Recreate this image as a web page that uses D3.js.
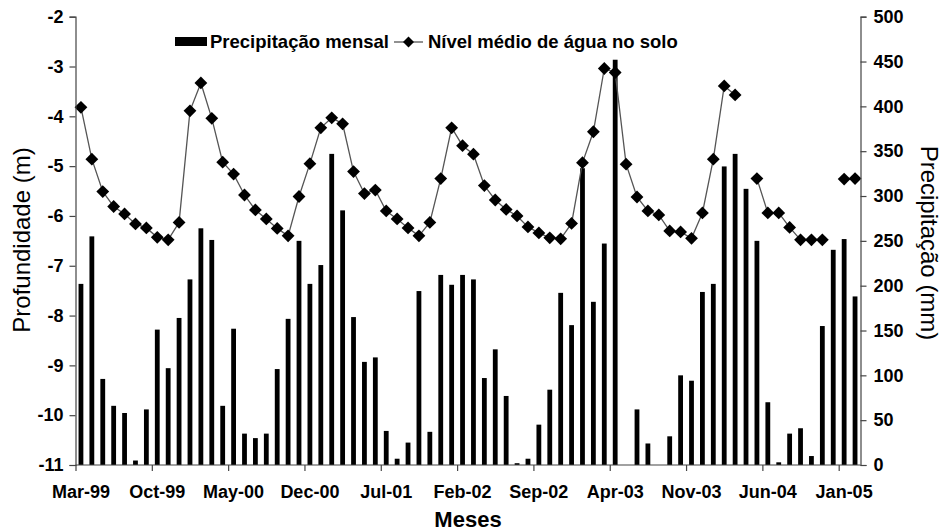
<!DOCTYPE html>
<html>
<head>
<meta charset="utf-8">
<script src="https://cdn.jsdelivr.net/npm/d3@7"></script>
<style>
  body { margin: 0; background: #fff; }
  svg { display: block; font-family: "Liberation Sans", Arial, sans-serif; }
</style>
</head>
<body>
<div id="chart"></div>
<script>
// monthly precipitation (mm), Mar-99 .. Feb-05
const precip = [
  202, 255, 96, 66, 58, 5, 62, 151, 108, 164, 207, 264,
  251, 66, 152, 35, 30, 35, 107, 163, 250, 202, 223, 347,
  284, 165, 115, 120, 38, 7, 25, 194, 37, 212, 201, 212,
  207, 97, 129, 77, 2, 7, 45, 84, 192, 156, 331, 182,
  247, 452, 0, 62, 24, 0, 32, 100, 94, 193, 202, 333,
  347, 308, 250, 70, 3, 35, 41, 10, 155, 240, 252, 188
];

// mean soil water level (m), null = no reading
const level = [
  -3.82, -4.86, -5.51, -5.81, -5.96, -6.16, -6.24, -6.43, -6.48, -6.13, -3.89, -3.33,
  -4.04, -4.92, -5.16, -5.58, -5.88, -6.06, -6.25, -6.40, -5.61, -4.95, -4.23, -4.03,
  -4.15, -5.11, -5.55, -5.48, -5.90, -6.06, -6.24, -6.40, -6.13, -5.25, -4.23, -4.59,
  -4.76, -5.39, -5.68, -5.87, -6.00, -6.22, -6.34, -6.44, -6.46, -6.15, -4.93, -4.31,
  -3.04, -3.12, -4.96, -5.62, -5.90, -5.98, -6.30, -6.32, -6.45, -5.94, -4.86, -3.39,
  -3.57, null, -5.25, -5.94, -5.94, -6.23, -6.48, -6.48, -6.48, null, -5.26, -5.25
];

const tickLabels = ["Mar-99", "Oct-99", "May-00", "Dec-00", "Jul-01", "Feb-02",
                    "Sep-02", "Apr-03", "Nov-03", "Jun-04", "Jan-05"];
const leftTicks = [-2, -3, -4, -5, -6, -7, -8, -9, -10, -11];
const rightTicks = [0, 50, 100, 150, 200, 250, 300, 350, 400, 450, 500];

const fmt = d3.timeFormat("%b-%y");
const months = d3.timeMonths(new Date(1999, 2, 1), new Date(2005, 2, 1)).map(fmt);

const width = 944, height = 532;
const plot = { left: 75.5, right: 860.5, top: 16.7, bottom: 465 };
const axisColor = "#444";

const svg = d3.select("#chart").append("svg")
    .attr("width", width)
    .attr("height", height);

// slot scale: month index -> pixel (ticks sit between categories)
const x = d3.scaleLinear().domain([0, months.length]).range([plot.left, plot.right]);
const yL = d3.scaleLinear().domain([-11, -2]).range([plot.bottom, plot.top]);
const yR = d3.scaleLinear().domain([0, 500]).range([plot.bottom, plot.top]);

const barW = 4.8;

// bars
svg.append("g")
    .selectAll("rect")
    .data(precip)
    .join("rect")
    .attr("x", (d, i) => x(i + 0.5) - barW / 2)
    .attr("y", d => yR(d))
    .attr("width", barW)
    .attr("height", d => yR(0) - yR(d))
    .attr("fill", "#000");

// line + diamonds
const line = d3.line()
    .defined(d => d != null)
    .x((d, i) => x(i + 0.5))
    .y(d => yL(d));

svg.append("path")
    .datum(level)
    .attr("fill", "none")
    .attr("stroke", "#555")
    .attr("stroke-width", 1.3)
    .attr("d", line);

const diamond = d3.symbol().type(d3.symbolSquare).size(82);
svg.append("g")
    .selectAll("path")
    .data(level.map((v, i) => ({ v, i })).filter(d => d.v != null))
    .join("path")
    .attr("d", diamond)
    .attr("transform", d => `translate(${x(d.i + 0.5)},${yL(d.v)}) rotate(45)`)
    .attr("fill", "#000");

// axes (plain hyphen for negatives, like the original)
const leftAxis = svg.append("g")
    .attr("transform", `translate(${plot.left},0)`)
    .call(d3.axisLeft(yL).tickValues(leftTicks).tickSize(6).tickFormat(d => String(d)));

const rightAxis = svg.append("g")
    .attr("transform", `translate(${plot.right},0)`)
    .call(d3.axisRight(yR).tickValues(rightTicks).tickSize(6).tickFormat(d => String(d)));

const tickIdx = tickLabels.map(t => months.indexOf(t));
const bottomAxis = svg.append("g")
    .attr("transform", `translate(0,${plot.bottom})`)
    .call(d3.axisBottom(x).tickValues(tickIdx).tickSize(6).tickFormat(""));

[leftAxis, rightAxis, bottomAxis].forEach(g => {
    g.select(".domain").attr("stroke", axisColor).attr("stroke-width", 1.2);
    g.selectAll(".tick line").attr("stroke", axisColor).attr("stroke-width", 1.2);
    g.selectAll(".tick text")
        .attr("fill", "#000")
        .attr("font-size", "18px")
        .attr("font-weight", "bold")
        .attr("font-family", "Liberation Sans, Arial, sans-serif");
});
bottomAxis.select(".domain").attr("d", `M${plot.left},0H${plot.right}`);
leftAxis.selectAll(".tick text").attr("x", -12);
rightAxis.selectAll(".tick text").attr("x", 13);

// month labels centred on their category
svg.append("g")
    .selectAll("text")
    .data(tickIdx)
    .join("text")
    .attr("x", d => x(d + 0.5))
    .attr("y", 498)
    .attr("text-anchor", "middle")
    .attr("font-size", "18px")
    .attr("font-weight", "bold")
    .text(d => months[d]);

// axis titles
svg.append("text")
    .attr("x", (plot.left + plot.right) / 2)
    .attr("y", 527)
    .attr("text-anchor", "middle")
    .attr("font-size", "22px")
    .attr("font-weight", "bold")
    .text("Meses");

svg.append("text")
    .attr("transform", "translate(30,240) rotate(-90)")
    .attr("text-anchor", "middle")
    .attr("font-size", "24px")
    .text("Profundidade (m)");

svg.append("text")
    .attr("transform", "translate(921,243) rotate(90)")
    .attr("text-anchor", "middle")
    .attr("font-size", "24px")
    .text("Precipitação (mm)");

// legend
const legend = svg.append("g").attr("font-size", "18.5px").attr("font-weight", "bold");
legend.append("rect")
    .attr("x", 175).attr("y", 37)
    .attr("width", 32).attr("height", 9)
    .attr("fill", "#000");
legend.append("text").attr("x", 210).attr("y", 48).text("Precipitação mensal");
legend.append("line")
    .attr("x1", 394).attr("x2", 423).attr("y1", 42).attr("y2", 42)
    .attr("stroke", "#555").attr("stroke-width", 1.3);
legend.append("path")
    .attr("d", d3.symbol().type(d3.symbolSquare).size(60))
    .attr("transform", "translate(408.5,42) rotate(45)")
    .attr("fill", "#000");
legend.append("text").attr("x", 428).attr("y", 48).text("Nível médio de água no solo");
</script>
</body>
</html>
